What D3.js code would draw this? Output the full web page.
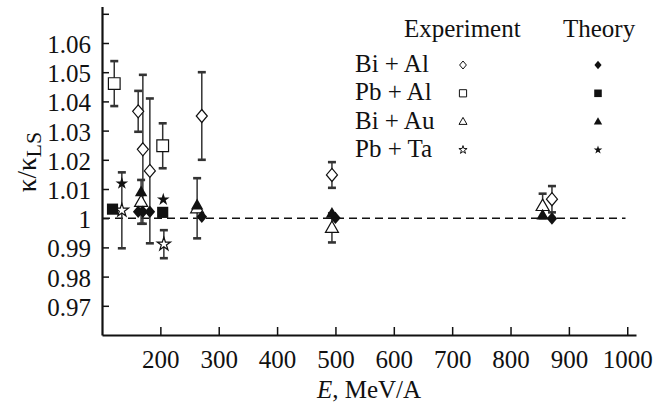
<!DOCTYPE html>
<html>
<head>
<meta charset="utf-8">
<script src="https://cdn.jsdelivr.net/npm/d3@7"></script>
<style>
  body { margin: 0; background: #fff; }
  svg text { font-family: "Liberation Serif", "DejaVu Serif", serif !important; fill: #111; }
</style>
</head>
<body>
<svg id="chart"></svg>
<script>
const width = 666;
const height = 408;

// Experiment (open symbols): energy, value, error
const biAlExpE   = [162, 170, 182, 271, 494, 871];
const biAlExpV   = [1.0366, 1.0236, 1.0162, 1.035, 1.0148, 1.0065];
const biAlExpErr = [0.007, 0.0255, 0.0248, 0.015, 0.0044, 0.0045];

const pbAlExpE   = [121, 204];
const pbAlExpV   = [1.0461, 1.0248];
const pbAlExpErr = [0.0077, 0.0077];

const biAuExpE   = [167, 263, 494, 855];
const biAuExpV   = [1.0056, 1.0034, 0.9967, 1.0042];
const biAuExpErr = [0.0075, 0.0103, 0.005, 0.0042];

const pbTaExpE   = [134, 206];
const pbTaExpV   = [1.0027, 0.9911];
const pbTaExpErr = [0.013, 0.0048];

// Theory (filled symbols)
const biAlThE = [162, 170, 182, 271, 500, 871];
const biAlThV = [1.0022, 1.0022, 1.0022, 1.0005, 1.0001, 0.9999];
const pbAlThE = [118, 204];
const pbAlThV = [1.0031, 1.002];
const biAuThE = [167, 263, 494, 855];
const biAuThV = [1.009, 1.0045, 1.0016, 1.001];
const pbTaThE = [134, 205];
const pbTaThV = [1.0119, 1.0064];

const seriesNames = ["Bi + Al", "Pb + Al", "Bi + Au", "Pb + Ta"];
const xTicks = [200, 300, 400, 500, 600, 700, 800, 900, 1000];
const yTicks = [0.97, 0.98, 0.99, 1, 1.01, 1.02, 1.03, 1.04, 1.05, 1.06, 1.07];
const yTickLabels = ["0.97", "0.98", "0.99", "1", "1.01", "1.02", "1.03", "1.04", "1.05", "1.06", ""];

const svg = d3.select("#chart")
  .attr("width", width)
  .attr("height", height);

const x = d3.scaleLinear().domain([100, 1015]).range([102, 636]);
const y = d3.scaleLinear().domain([0.96, 1.0725]).range([335, 6.5]);

// custom symbol shapes (size = half extent in px here)
const diamond = {
  draw(ctx, r) {
    ctx.moveTo(0, -r);
    ctx.lineTo(r * 0.85, 0);
    ctx.lineTo(0, r);
    ctx.lineTo(-r * 0.85, 0);
    ctx.closePath();
  }
};
const square = {
  draw(ctx, r) {
    const s = r * 0.9;
    ctx.rect(-s, -s, 2 * s, 2 * s);
  }
};
const triangle = {
  draw(ctx, r) {
    ctx.moveTo(0, -r * 1.05);
    ctx.lineTo(r, r * 0.7);
    ctx.lineTo(-r, r * 0.7);
    ctx.closePath();
  }
};
const star = {
  draw(ctx, r) {
    d3.symbolStar.draw(ctx, r * r * 1.3);
  }
};
const shapes = [diamond, square, triangle, star];

const expSets = [
  [biAlExpE, biAlExpV, biAlExpErr],
  [pbAlExpE, pbAlExpV, pbAlExpErr],
  [biAuExpE, biAuExpV, biAuExpErr],
  [pbTaExpE, pbTaExpV, pbTaExpErr]
];
const thSets = [
  [biAlThE, biAlThV],
  [pbAlThE, pbAlThV],
  [biAuThE, biAuThV],
  [pbTaThE, pbTaThV]
];

const expPoints = [];
expSets.forEach((s, k) => {
  s[0].forEach((e, i) => expPoints.push({ k, e, v: s[1][i], err: s[2][i] }));
});
const thPoints = [];
thSets.forEach((s, k) => {
  s[0].forEach((e, i) => thPoints.push({ k, e, v: s[1][i] }));
});

// axes
const yAxis = d3.axisLeft(y)
  .tickValues(yTicks)
  .tickFormat((d, i) => yTickLabels[i])
  .tickSizeInner(-7)
  .tickSizeOuter(0)
  .tickPadding(11);

const xAxis = d3.axisBottom(x)
  .tickValues(xTicks)
  .tickFormat(d => d)
  .tickSizeInner(-8)
  .tickSizeOuter(0)
  .tickPadding(15);

const gy = svg.append("g")
  .attr("transform", `translate(${x.range()[0]},0)`)
  .call(yAxis)
  .attr("font-family", null)
  .attr("font-size", 25);
gy.select(".domain").attr("stroke", "#111").attr("stroke-width", 2.2);
gy.selectAll(".tick line").attr("stroke", "#111").attr("stroke-width", 1.5);
gy.selectAll(".tick text")
  .attr("dy", "0.38em")
  .attr("fill", "#111");

const gx = svg.append("g")
  .attr("transform", `translate(0,${y.range()[0]})`)
  .call(xAxis)
  .attr("font-family", null)
  .attr("font-size", 25);
gx.select(".domain").attr("stroke", "#111").attr("stroke-width", 2.2);
gx.selectAll(".tick line").attr("stroke", "#111").attr("stroke-width", 1.5);
gx.selectAll(".tick text").attr("fill", "#111");

// axis titles
const xTitle = svg.append("text")
  .attr("x", 369)
  .attr("y", 398)
  .attr("text-anchor", "middle")
  .attr("font-size", 25);
xTitle.append("tspan").attr("font-style", "italic").text("E");
xTitle.append("tspan").text(", MeV/A");

const yTitle = svg.append("text")
  .attr("transform", "translate(36,162) rotate(-90)")
  .attr("text-anchor", "middle")
  .attr("font-size", 27);
yTitle.append("tspan").text("κ/κ");
yTitle.append("tspan").attr("font-size", 22).attr("dy", 5).text("LS");

// reference line at 1
svg.append("line")
  .attr("x1", x(100))
  .attr("x2", x(997))
  .attr("y1", y(1))
  .attr("y2", y(1))
  .attr("stroke", "#111")
  .attr("stroke-width", 1.6)
  .attr("stroke-dasharray", "8,5");

// error bars
const bars = svg.append("g").selectAll("g")
  .data(expPoints)
  .enter()
  .append("g")
  .attr("stroke", "#333");

bars.append("line")
  .attr("x1", d => x(d.e)).attr("x2", d => x(d.e))
  .attr("y1", d => y(d.v + d.err)).attr("y2", d => y(d.v - d.err))
  .attr("stroke-width", 1.5);
bars.append("line")
  .attr("x1", d => x(d.e) - 4).attr("x2", d => x(d.e) + 4)
  .attr("y1", d => y(d.v + d.err)).attr("y2", d => y(d.v + d.err))
  .attr("stroke-width", 2.6);
bars.append("line")
  .attr("x1", d => x(d.e) - 4).attr("x2", d => x(d.e) + 4)
  .attr("y1", d => y(d.v - d.err)).attr("y2", d => y(d.v - d.err))
  .attr("stroke-width", 2.6);

// experiment markers (open)
svg.append("g").selectAll("path")
  .data(expPoints)
  .enter()
  .append("path")
  .attr("transform", d => `translate(${x(d.e)},${y(d.v)})`)
  .attr("d", d => d3.symbol().type(shapes[d.k]).size(6.5)())
  .attr("fill", "#fff")
  .attr("stroke", "#111")
  .attr("stroke-width", 1.2);

// theory markers (filled)
svg.append("g").selectAll("path")
  .data(thPoints)
  .enter()
  .append("path")
  .attr("transform", d => `translate(${x(d.e)},${y(d.v)})`)
  .attr("d", d => d3.symbol().type(shapes[d.k]).size(6.2)())
  .attr("fill", "#111");

// legend
svg.append("text").attr("x", 404).attr("y", 37).attr("font-size", 25).text("Experiment");
svg.append("text").attr("x", 563).attr("y", 37).attr("font-size", 25).text("Theory");

const legendRows = svg.append("g").selectAll("g")
  .data(seriesNames)
  .enter()
  .append("g")
  .attr("transform", (d, i) => `translate(0,${72 + i * 28.3})`);

legendRows.append("text")
  .attr("x", 355)
  .attr("font-size", 25)
  .text(d => d);
legendRows.append("path")
  .attr("transform", "translate(463,-7)")
  .attr("d", (d, i) => d3.symbol().type(shapes[i]).size(4)())
  .attr("fill", "#fff")
  .attr("stroke", "#111")
  .attr("stroke-width", 1);
legendRows.append("path")
  .attr("transform", "translate(598,-7)")
  .attr("d", (d, i) => d3.symbol().type(shapes[i]).size(4.2)())
  .attr("fill", "#111");
</script>
</body>
</html>
